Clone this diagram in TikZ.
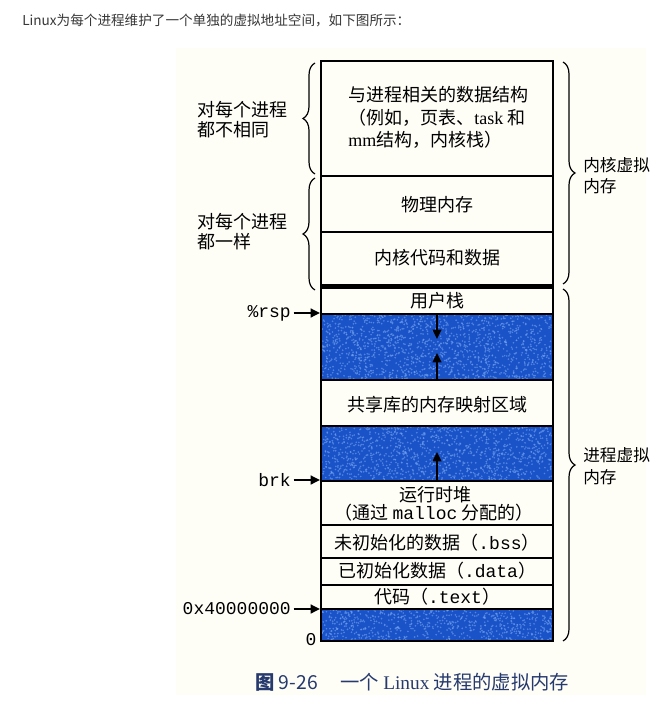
\documentclass[tikz,border=0pt]{standalone}
\usepackage{fontspec}
\setmainfont{Liberation Serif}
\setmonofont{Liberation Mono}
\newfontfamily\zh{Noto Sans CJK SC}
\usetikzlibrary{decorations.pathreplacing,arrows.meta}
\definecolor{memblue}{RGB}{26,82,200}
\definecolor{speck}{RGB}{115,165,240}
\definecolor{capcol}{RGB}{38,58,110}
\definecolor{paper}{RGB}{254,253,246}
\definecolor{hdrcol}{RGB}{55,55,55}
\begin{document}
\begin{tikzpicture}[x=0.75pt,y=-0.75pt,
  cell/.style={line width=1.2pt},
  lbl/.style={inner sep=0pt, font=\zh\fontsize{13.5}{15}\selectfont},
  sidelbl/.style={inner sep=0pt, anchor=west, font=\zh\fontsize{13.5}{15}\selectfont},
  rightlbl/.style={inner sep=0pt, anchor=west, font=\zh\fontsize{12.5}{14}\selectfont},
  addr/.style={inner sep=0pt, anchor=east, font=\ttfamily\fontsize{13.5}{15}\selectfont},
  addrarrow/.style={line width=1.7pt, -{Triangle[length=7pt,width=6.5pt]}},
  growarrow/.style={line width=1.6pt, -{Triangle[length=7pt,width=6.5pt]}},
  bracestyle/.style={decorate, decoration={brace, amplitude=9pt}, line width=0.9pt},
  speckdot/.style={fill=speck, opacity=0.6},
]
\fill[white] (0,0) rectangle (667,717);
\useasboundingbox (0,0) rectangle (667,717);
\fill[paper] (176,48) rectangle (646,695);

% header
\node[anchor=west, inner sep=0pt, font=\zh\fontsize{10.2}{12}\selectfont, text=hdrcol] (hdr) at (22,20)
  {Linux为每个进程维护了一个单独的虚拟地址空间，如下图所示：};

% blue regions
\pgfmathsetseed{7}
\fill[memblue] (321,314) rectangle (553,380);
\fill[memblue] (321,426) rectangle (553,481);
\fill[memblue] (321,609) rectangle (553,641);
\begin{scope}
  \clip (321,314) rectangle (553,380);
  \foreach \i in {1,...,1400} {\fill[speckdot] ({321+232*rnd},{314+66*rnd}) circle (0.7pt);}
\end{scope}
\begin{scope}
  \clip (321,426) rectangle (553,481);
  \foreach \i in {1,...,1150} {\fill[speckdot] ({321+232*rnd},{426+55*rnd}) circle (0.7pt);}
\end{scope}
\begin{scope}
  \clip (321,609) rectangle (553,641);
  \foreach \i in {1,...,680} {\fill[speckdot] ({321+232*rnd},{609+32*rnd}) circle (0.7pt);}
\end{scope}

% box outline and separators
\draw[cell] (321,61) rectangle (553,641);
\foreach \yy in {176,232,314,380,426,481,525,558,585,609}
  {\draw[cell] (321,\yy) -- (553,\yy);}
\fill[black] (321,284) rectangle (553,289);

% texts in rows
\node[lbl, anchor=west] (t1a) at (348,95) {与进程相关的数据结构};
\node[lbl, anchor=west] (t1b) at (348,118) {（例如，页表、{\rmfamily task} 和};
\node[lbl, anchor=west] (t1c) at (348,140) {{\rmfamily mm}结构，内核栈）};
\node[lbl] (t2) at (437,205) {物理内存};
\node[lbl] (t3) at (437,258) {内核代码和数据};
\node[lbl] (t4) at (437,301) {用户栈};
\node[lbl] (t5) at (437,405) {共享库的内存映射区域};
\node[lbl] (t6a) at (435,495) {运行时堆};
\node[lbl] (t6b) at (434,513) {（通过 {\ttfamily malloc} 分配的）};
\node[lbl] (t7) at (437,543) {未初始化的数据（{\ttfamily .bss}）};
\node[lbl] (t8) at (437,571) {已初始化数据（{\ttfamily .data}）};
\node[lbl] (t9) at (437,597) {代码（{\ttfamily .text}）};

% growth arrows
\coordinate (s1) at (437,315);
\coordinate (s1e) at (437,339);
\coordinate (s2) at (437,379);
\coordinate (s2e) at (437,353);
\coordinate (s3) at (437,480);
\coordinate (s3e) at (437,452);
\draw[growarrow] (s1) -- (s1e);
\draw[growarrow] (s2) -- (s2e);
\draw[growarrow] (s3) -- (s3e);

% address labels
\node[addr] (rsp) at (291,313) {\%rsp};
\node[addr] (brk) at (291,480) {brk};
\node[addr] (base) at (291,609) {0x40000000};
\node[inner sep=0pt, font=\ttfamily\fontsize{13.5}{15}\selectfont] (zero) at (311,640) {0};
\coordinate (rspT) at (320,313);
\coordinate (brkT) at (320,480);
\coordinate (baseT) at (320,609);
\draw[addrarrow, shorten <=2pt] (rsp.east |- rspT) -- (rspT);
\draw[addrarrow, shorten <=2pt] (brk.east |- brkT) -- (brkT);
\draw[addrarrow, shorten <=2pt] (base.east |- baseT) -- (baseT);

% left braces and labels
\draw[bracestyle] (315,174) -- (315,63);
\draw[bracestyle] (315,290) -- (315,178);
\node[sidelbl] (l1a) at (197,110) {对每个进程};
\node[sidelbl] (l1b) at (197,130) {都不相同};
\node[sidelbl] (l2a) at (197,222) {对每个进程};
\node[sidelbl] (l2b) at (197,242) {都一样};

% right braces and labels
\draw[bracestyle] (563,62) -- (563,284);
\draw[bracestyle] (563,289) -- (563,641);
\node[rightlbl] (r1a) at (583,165) {内核虚拟};
\node[rightlbl] (r1b) at (583,186) {内存};
\node[rightlbl] (r2a) at (583,455) {进程虚拟};
\node[rightlbl] (r2b) at (583,477) {内存};

% caption
\node[anchor=west, inner sep=0pt, font=\zh\fontsize{14.5}{16}\selectfont, text=capcol] (capA) at (255,682) {\textbf{图} 9-26};
\node[anchor=west, inner sep=0pt, font=\zh\fontsize{14.5}{16}\selectfont, text=capcol] (capB) at (340,682) {一个 {\rmfamily Linux} 进程的虚拟内存};
\end{tikzpicture}
\end{document}
